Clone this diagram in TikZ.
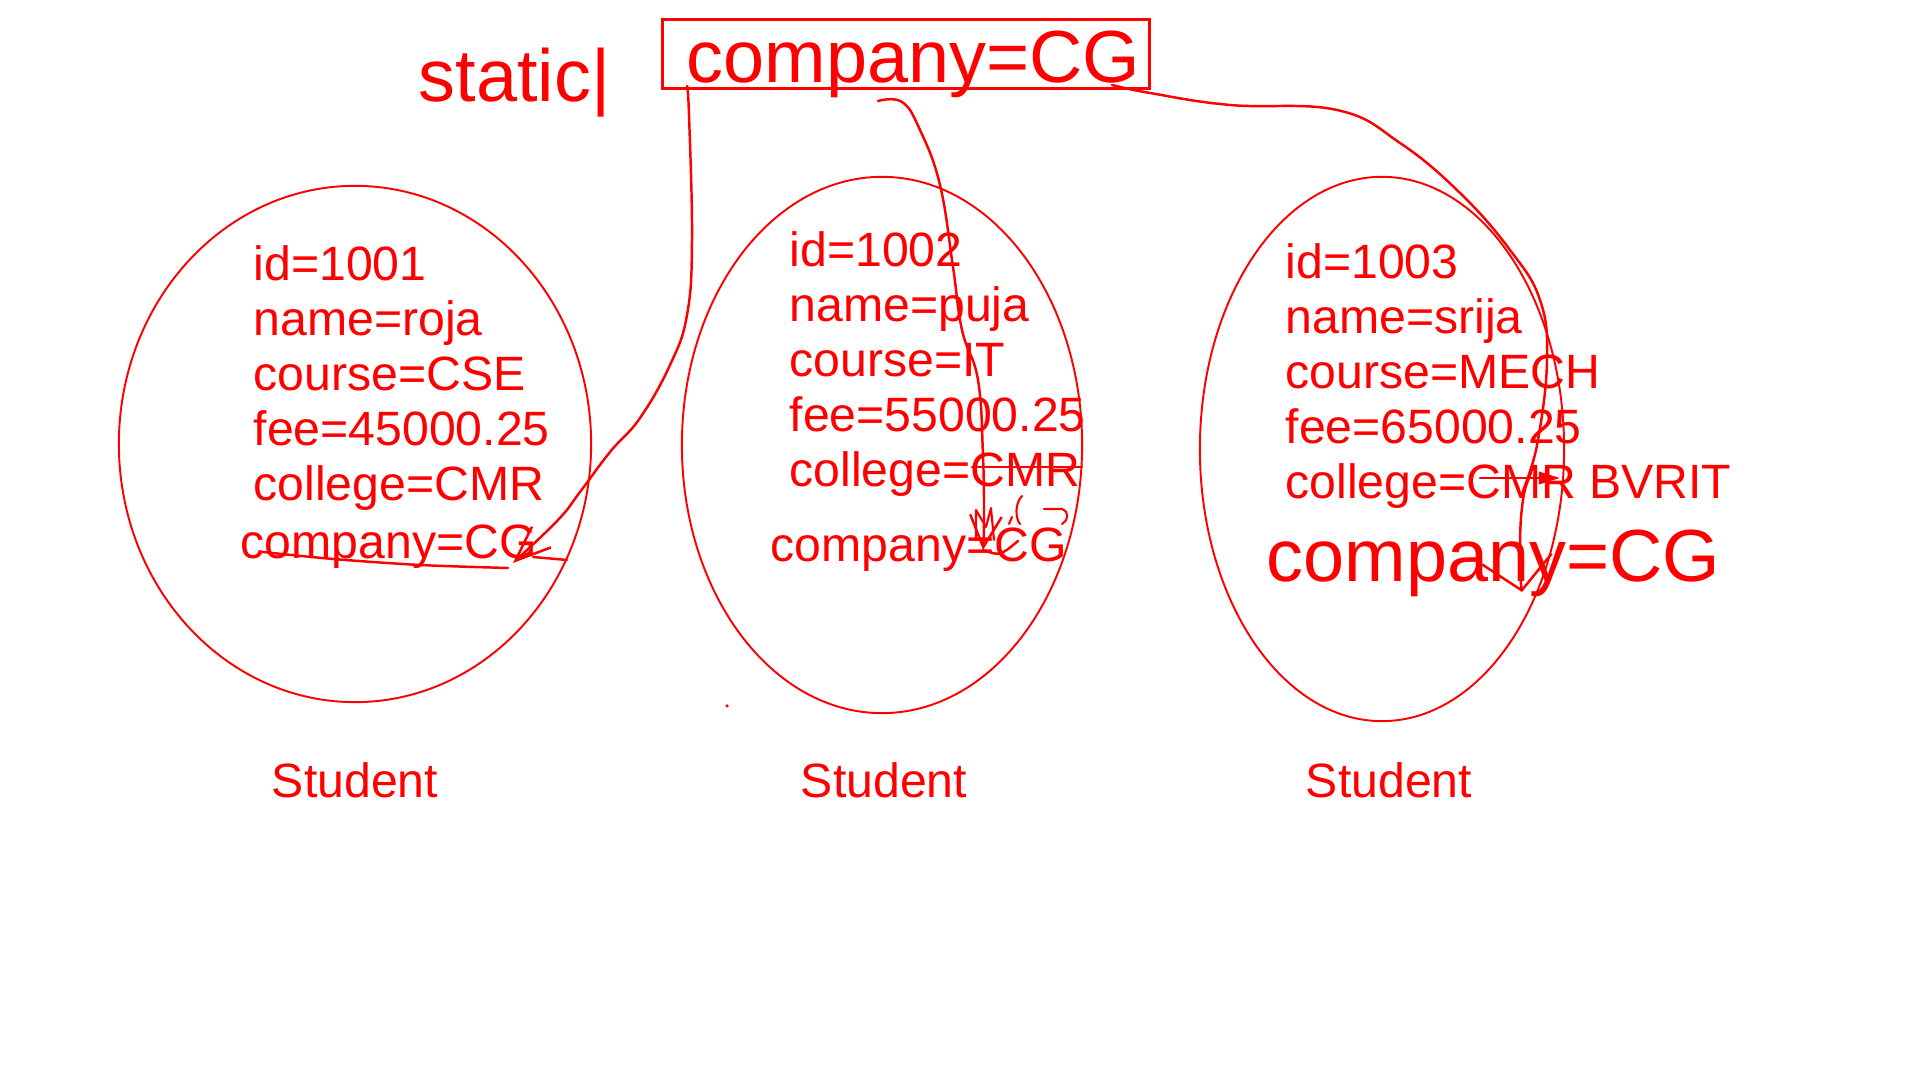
\documentclass[tikz,border=0pt]{standalone}
\usepackage{fontspec}
\setmainfont{Liberation Sans}
\usetikzlibrary{shapes.geometric,arrows.meta,positioning,calc}

\tikzset{
  pen/.style={red, line width=0.7pt, line cap=round, line join=round},
  student/.style={ellipse, draw=red, line width=0.55pt, inner sep=0pt},
  field/.style={red, font=\fontsize{13.7}{16}\selectfont, anchor=base west, inner sep=0pt},
  bigfield/.style={red, font=\fontsize{21}{25}\selectfont, anchor=base west, inner sep=0pt},
  classname/.style={red, font=\fontsize{13.7}{16}\selectfont, anchor=base, inner sep=0pt}
}

\begin{document}
\begin{tikzpicture}[x=0.01cm, y=-0.01cm]
    \useasboundingbox (0,0) rectangle (1920,1080);
    \fill[white] (0,0) rectangle (1920,1080);

    % static variable shared by all objects
    \node[bigfield] (static) at (418,102) {static|};
    \node[draw=red, line width=0.85pt, minimum width=4.86cm, minimum height=0.68cm, inner sep=0pt] (box) at (906,54) {};
    \node[bigfield] (shared) at (686,83) {company=CG};

    % student objects
    \node[student, minimum width=4.72cm, minimum height=5.16cm] (s1) at (355,444) {};
    \node[student, minimum width=4.00cm, minimum height=5.36cm] (s2) at (882,445) {};
    \node[student, minimum width=3.64cm, minimum height=5.44cm] (s3) at (1382,449) {};

    % instance fields
    \foreach \txt [count=\i] in {id=1001,name=roja,course=CSE,fee=45000.25,college=CMR}
        \node[field] (a\i) at (253,{281+54.8*(\i-1)}) {\txt};
    \foreach \txt [count=\i] in {id=1002,name=puja,course=IT,fee=55000.25,college=CMR}
        \node[field] (b\i) at (789,{267+55*(\i-1)}) {\txt};
    \foreach \txt [count=\i] in {id=1003,name=srija,course=MECH,fee=65000.25,college=CMR BVRIT}
        \node[field] (c\i) at (1285,{279+55*(\i-1)}) {\txt};

    \node[field] (a6) at (240,559) {company=CG};
    \node[field] (b6) at (770,562) {company=CG};
    \node[bigfield] (c6) at (1266,582) {company=CG};

    % class names
    \node[classname] (n1) at (355,798) {Student};
    \node[classname] (n2) at (884,798) {Student};
    \node[classname] (n3) at (1389,798) {Student};

    % links from the shared value
    \coordinate (p1) at (687,86);
    \coordinate (h1) at (513,563);
    \coordinate (p2) at (878,101);
    \coordinate (h2) at (983,550);
    \coordinate (p3) at (1112,85);
    \coordinate (h3) at (1522,592);
    \draw[pen, -{Straight Barb[length=10pt,width=8pt]}] plot[smooth, tension=0.7] coordinates {(p1) (689,115) (692,240) (687,315) (670,365) (640,418) (610,452) (580,492) (558,520) (h1)};
    \draw[pen, -{Straight Barb[length=9pt,width=9pt]}] plot[smooth, tension=0.7] coordinates {(p2) (902,102) (920,130) (940,185) (953,267) (962,330) (978,380) (983,456) (984,520) (h2)};
    \draw[pen, -{Straight Barb[length=9pt,width=20pt]}] plot[smooth, tension=0.7] coordinates {(p3) (1150,93) (1230,105) (1337,110) (1400,143) (1460,193) (1510,250) (1540,300) (1547,360) (1538,440) (1523,500) (1520,560) (h3)};

    % edits on the objects
    \coordinate (k1) at (1480,478);
    \coordinate (k2) at (1560,478);
    \draw[pen, -{Triangle[length=6pt,width=3.5pt]}] (k1) -- (k2);
    \draw[pen] (972,467) -- (1082,467);
    \draw[pen] plot[smooth] coordinates {(263,552) (333,559) (420,565) (508,568)};
    \draw[pen] (533,557) -- (567,560);
    \draw[pen] (h2) .. controls (1000,556) .. (1018,541);
    \draw[pen, line width=0.6pt] (976,540) -- (976,510) -- (986,527) -- (991,508) -- (994,540);
    \draw[pen, line width=0.6pt] (1012,517) -- (1009,524);
    \draw[pen, line width=0.6pt] (1022,496) .. controls (1015,503) and (1015,518) .. (1020,524);
    \draw[pen, line width=0.6pt] (1044,509) -- (1062,509) .. controls (1070,512) and (1068,521) .. (1062,524);
    \fill[red] (727,706) circle[radius=0.5pt];
\end{tikzpicture}
\end{document}
